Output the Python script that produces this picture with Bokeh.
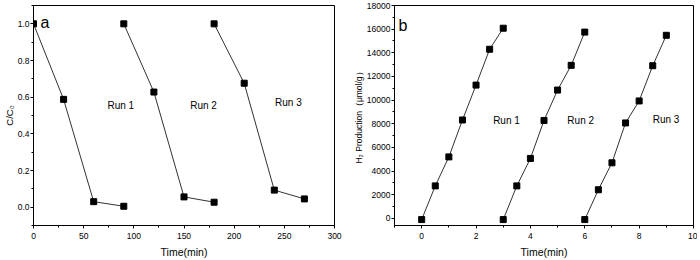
from bokeh.plotting import figure
from bokeh.layouts import row
from bokeh.models import SingleIntervalTicker, NumeralTickFormatter, Range1d
from bokeh.core.properties import value
from bokeh.embed import file_html
from bokeh.resources import INLINE

# ---- data: panel a (degradation) ----
a_t1 = [0, 30, 60, 90]
a_c1 = [1.0, 0.588, 0.030, 0.005]
a_t2 = [90, 120, 150, 180]
a_c2 = [1.0, 0.628, 0.056, 0.027]
a_t3 = [180, 210, 240, 270]
a_c3 = [1.0, 0.676, 0.093, 0.045]

# ---- data: panel b (H2 production) ----
b_t1 = [0, 0.5, 1, 1.5, 2, 2.5, 3]
b_h1 = [-100, 2750, 5200, 8320, 11270, 14300, 16080]
b_t2 = [3, 3.5, 4, 4.5, 5, 5.5, 6]
b_h2 = [-100, 2750, 5070, 8280, 10850, 12940, 15750]
b_t3 = [6, 6.5, 7, 7.5, 8, 8.5, 9]
b_h3 = [-100, 2420, 4700, 8070, 9930, 12910, 15480]

run_labels = ["Run 1", "Run 2", "Run 3"]
a_label_x = [87, 169.5, 254]
a_label_y = [0.552, 0.552, 0.573]
b_label_x = [3.12, 5.85, 8.99]
b_label_y = [8240, 8240, 8350]

FONT = "Liberation Sans"
LINE = "#333333"


def style(p, xint, yint):
    p.xaxis.ticker = SingleIntervalTicker(interval=xint, num_minor_ticks=2)
    p.yaxis.ticker = SingleIntervalTicker(interval=yint, num_minor_ticks=2)
    p.xgrid.visible = False
    p.ygrid.visible = False
    p.outline_line_color = "black"
    p.outline_line_width = 1
    p.outline_line_alpha = 1
    for ax in (p.xaxis[0], p.yaxis[0]):
        ax.axis_line_color = "black"
        ax.axis_line_width = 1
        ax.major_tick_line_color = "black"
        ax.minor_tick_line_color = "black"
        ax.major_tick_out = 3
        ax.major_tick_in = 0
        ax.minor_tick_out = 2
        ax.minor_tick_in = 0
        ax.major_label_text_font = FONT
        ax.major_label_text_font_size = "8.5px"
        ax.major_label_text_color = "black"
        ax.axis_label_text_font = FONT
        ax.axis_label_text_font_style = "normal"
        ax.axis_label_text_color = "black"
    p.xaxis.major_label_standoff = 4
    p.xaxis.axis_label_standoff = 4
    p.yaxis.major_label_standoff = 1
    p.yaxis.axis_label_standoff = 0
    p.xaxis.axis_label_text_font_size = "10.5px"
    p.yaxis.axis_label_text_font_size = "9px"


pa = figure(width=346, height=260, output_backend="svg",
            toolbar_location=None,
            x_range=Range1d(0, 300), y_range=Range1d(-0.1, 1.1),
            min_border_left=33, min_border_right=12, min_border_top=3,
            min_border_bottom=35)
style(pa, 50, 0.2)
pa.yaxis.formatter = NumeralTickFormatter(format="0.0")
pa.yaxis.axis_label_text_font_size = "9.5px"
pa.xaxis.axis_label = "Time(min)"
pa.yaxis.axis_label = "C/C\u2080"
for t, c in ((a_t1, a_c1), (a_t2, a_c2), (a_t3, a_c3)):
    pa.line(t, c, line_color=LINE, line_width=1)
    pa.scatter(t, c, marker="square", size=6, color="black")
pa.text(x=a_label_x, y=a_label_y, text=run_labels, text_font=value(FONT),
        text_font_size=value("10px"), text_align="center",
        text_baseline="middle", text_color="black")
pa.text(x=[7], y=[1.005], text=["a"], text_font=value(FONT),
        text_font_size=value("16px"), text_align="left",
        text_baseline="alphabetic", text_color="black")

pb = figure(width=351, height=260, output_backend="svg",
            toolbar_location=None,
            x_range=Range1d(-1, 10), y_range=Range1d(-600, 18000),
            min_border_left=48, min_border_right=4, min_border_top=5,
            min_border_bottom=32)
style(pb, 2, 2000)
pb.yaxis.axis_label_text_font_size = "8.5px"
pb.xaxis.axis_label = "Time(min)"
pb.yaxis.axis_label = "H\u2082 Production\uff08\u03bcmol/g\uff09"
for t, h in ((b_t1, b_h1), (b_t2, b_h2), (b_t3, b_h3)):
    pb.line(t, h, line_color=LINE, line_width=1)
    pb.scatter(t, h, marker="square", size=6, color="black")
pb.text(x=b_label_x, y=b_label_y, text=run_labels, text_font=value(FONT),
        text_font_size=value("10px"), text_align="center",
        text_baseline="middle", text_color="black")
pb.text(x=[-0.85], y=[16335], text=["b"], text_font=value(FONT),
        text_font_size=value("16px"), text_align="left",
        text_baseline="alphabetic", text_color="black")

layout = row(pa, pb)
open("out.html", "w").write(file_html(layout, INLINE))
